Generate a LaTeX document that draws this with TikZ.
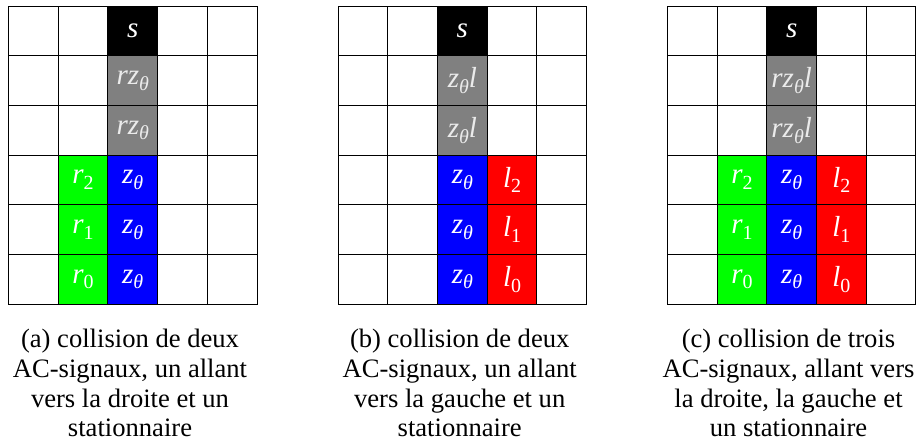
\documentclass[tikz,border=0pt]{standalone}
\usepackage{fontspec}
\setmainfont{LiberationSerif}[Extension=.ttf, UprightFont=*-Regular, ItalicFont=*-Italic, BoldFont=*-Bold, BoldItalicFont=*-BoldItalic]
\newcommand{\sbs}[1]{\raisebox{-0.2em}{\fontsize{20}{20}\selectfont #1}}
\newcommand{\zt}{z\sbs{θ}}
\newcommand{\dg}[1]{\sbs{\upshape #1}}
\tikzset{
  cellbox/.style={draw=black, line width=0.9pt, minimum width=49.7pt, minimum height=49.7pt,
    inner sep=0pt, outer sep=0pt, font=\fontsize{29}{29}\selectfont\itshape, text=white, fill=white},
  blackcell/.style={cellbox, fill=black},
  graycell/.style={cellbox, fill={rgb,255:red,128;green,128;blue,128}, text={rgb,255:red,235;green,235;blue,235}},
  greencell/.style={cellbox, fill={rgb,255:red,0;green,255;blue,0}},
  bluecell/.style={cellbox, fill={rgb,255:red,0;green,0;blue,255}},
  redcell/.style={cellbox, fill={rgb,255:red,255;green,0;blue,0}},
  capline/.style={anchor=base, inner sep=0pt, font=\fontsize{26.6}{29.7}\selectfont}
}
\newcommand{\Cell}[6]{\node[#4] (#5) at ({#1+(#2+0.5)*49.7},{6+(#3+0.5)*49.7}) {#6};}
\begin{document}
\begin{tikzpicture}[x=1pt,y=-1pt]
\useasboundingbox (0,0) rectangle (916,446);
% white cells common to all three grids
\foreach \g/\X in {a/8.5, b/338.1, c/667.4} {
  \foreach \j in {0,...,5} {
    \Cell{\X}{0}{\j}{cellbox}{\g-0-\j}{}
    \Cell{\X}{4}{\j}{cellbox}{\g-4-\j}{}
  }
  \foreach \j in {0,1,2} {
    \Cell{\X}{1}{\j}{cellbox}{\g-1-\j}{}
    \Cell{\X}{3}{\j}{cellbox}{\g-3-\j}{}
  }
}
\foreach \j in {3,4,5} {
  \Cell{8.5}{3}{\j}{cellbox}{a-3-\j}{}
  \Cell{338.1}{1}{\j}{cellbox}{b-1-\j}{}
}
% grid (a)
\Cell{8.5}{2}{0}{blackcell}{a-2-0}{s}
\Cell{8.5}{2}{1}{graycell}{a-2-1}{r\zt}
\Cell{8.5}{2}{2}{graycell}{a-2-2}{r\zt}
\Cell{8.5}{2}{3}{bluecell}{a-2-3}{\zt}
\Cell{8.5}{2}{4}{bluecell}{a-2-4}{\zt}
\Cell{8.5}{2}{5}{bluecell}{a-2-5}{\zt}
\Cell{8.5}{1}{3}{greencell}{a-1-3}{r\dg{2}}
\Cell{8.5}{1}{4}{greencell}{a-1-4}{r\dg{1}}
\Cell{8.5}{1}{5}{greencell}{a-1-5}{r\dg{0}}
% grid (b)
\Cell{338.1}{2}{0}{blackcell}{b-2-0}{s}
\Cell{338.1}{2}{1}{graycell}{b-2-1}{\zt l}
\Cell{338.1}{2}{2}{graycell}{b-2-2}{\zt l}
\Cell{338.1}{2}{3}{bluecell}{b-2-3}{\zt}
\Cell{338.1}{2}{4}{bluecell}{b-2-4}{\zt}
\Cell{338.1}{2}{5}{bluecell}{b-2-5}{\zt}
\Cell{338.1}{3}{3}{redcell}{b-3-3}{l\dg{2}}
\Cell{338.1}{3}{4}{redcell}{b-3-4}{l\dg{1}}
\Cell{338.1}{3}{5}{redcell}{b-3-5}{l\dg{0}}
% grid (c)
\Cell{667.4}{2}{0}{blackcell}{c-2-0}{s}
\Cell{667.4}{2}{1}{graycell}{c-2-1}{r\zt l}
\Cell{667.4}{2}{2}{graycell}{c-2-2}{r\zt l}
\Cell{667.4}{2}{3}{bluecell}{c-2-3}{\zt}
\Cell{667.4}{2}{4}{bluecell}{c-2-4}{\zt}
\Cell{667.4}{2}{5}{bluecell}{c-2-5}{\zt}
\Cell{667.4}{1}{3}{greencell}{c-1-3}{r\dg{2}}
\Cell{667.4}{1}{4}{greencell}{c-1-4}{r\dg{1}}
\Cell{667.4}{1}{5}{greencell}{c-1-5}{r\dg{0}}
\Cell{667.4}{3}{3}{redcell}{c-3-3}{l\dg{2}}
\Cell{667.4}{3}{4}{redcell}{c-3-4}{l\dg{1}}
\Cell{667.4}{3}{5}{redcell}{c-3-5}{l\dg{0}}
% captions
\node[capline] (capa1) at (130,347.7) {(a) collision de deux};
\node[capline] (capa2) at (130,377.4) {AC-signaux, un allant};
\node[capline] (capa3) at (130,407.1) {vers la droite et un};
\node[capline] (capa4) at (130,436.8) {stationnaire};
\node[capline] (capb1) at (459.7,347.7) {(b) collision de deux};
\node[capline] (capb2) at (459.7,377.4) {AC-signaux, un allant};
\node[capline] (capb3) at (459.7,407.1) {vers la gauche et un};
\node[capline] (capb4) at (459.7,436.8) {stationnaire};
\node[capline] (capc1) at (788.5,347.7) {(c) collision de trois};
\node[capline] (capc2) at (788.5,377.4) {AC-signaux, allant vers};
\node[capline] (capc3) at (788.5,407.1) {la droite, la gauche et};
\node[capline] (capc4) at (788.5,436.8) {un stationnaire};
\end{tikzpicture}
\end{document}
